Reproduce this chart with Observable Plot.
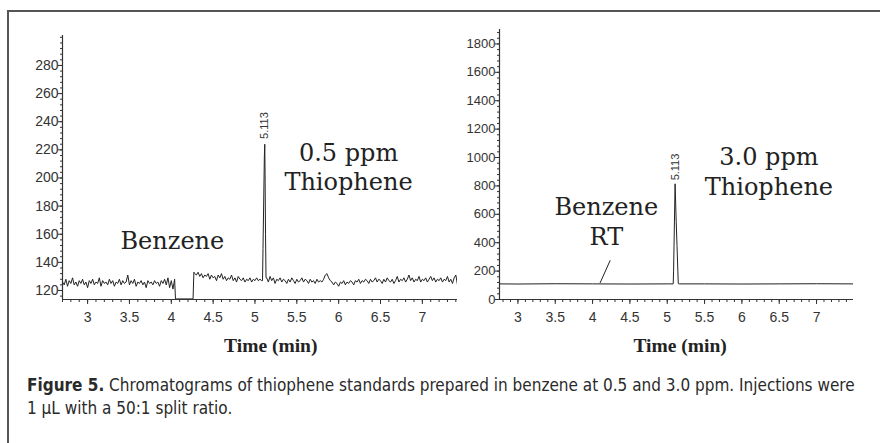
<!DOCTYPE html>
<html>
<head>
<meta charset="utf-8">
<script src="https://cdn.jsdelivr.net/npm/d3@7"></script>
<script src="https://cdn.jsdelivr.net/npm/@observablehq/plot@0.6"></script>
<style>
  body { margin: 0; background: #fff; }
  #fig { position: relative; width: 880px; height: 443px; overflow: hidden; background: #fff; }
  #border { position: absolute; left: 7px; top: 10px; width: 900px; height: 460px; border-left: 2px solid #555; border-top: 2px solid #555; }
  #left { position: absolute; left: 0; top: 0; width: 460px; }
  #right { position: absolute; left: 440px; top: 0; width: 440px; }
  #caption { position: absolute; left: 27px; top: 374px; width: 845px; font-family: "Liberation Sans Narrow", "DejaVu Sans Condensed", "Arial Narrow", sans-serif; font-size: 17px; line-height: 23px; color: #2a2a2a; white-space: nowrap; }
  #caption b { font-weight: bold; }
</style>
</head>
<body>
<div id="fig">
  <div id="border"></div>
  <div id="left"></div>
  <div id="right"></div>
  <div id="caption"><b>Figure 5.</b> Chromatograms of thiophene standards prepared in benzene at 0.5 and 3.0 ppm. Injections were<br>1 μL with a 50:1 split ratio.</div>
</div>
<script>
// ---- Data: 0.5 ppm chromatogram (left) ----
const leftTime = [
  2.70,2.72,2.74,2.76,2.78,2.80,2.82,2.84,2.86,2.88,2.90,2.92,2.94,2.96,2.98,3.00,3.02,3.04,3.06,3.08,
  3.10,3.12,3.14,3.16,3.18,3.20,3.22,3.24,3.26,3.28,3.30,3.32,3.34,3.36,3.38,3.40,3.42,3.44,3.46,3.48,
  3.50,3.52,3.54,3.56,3.58,3.60,3.62,3.64,3.66,3.68,3.70,3.72,3.74,3.76,3.78,3.80,3.82,3.84,3.86,3.88,
  3.90,3.92,3.94,3.96,3.98,4.00,4.02,4.04,4.05,4.26,4.27,
  4.28,4.30,4.32,4.34,4.36,4.38,4.40,4.42,4.44,4.46,4.48,4.50,4.52,4.54,4.56,4.58,4.60,4.62,4.64,4.66,
  4.68,4.70,4.72,4.74,4.76,4.78,4.80,4.82,4.84,4.86,4.88,4.90,4.92,4.94,4.96,4.98,5.00,5.02,5.04,5.06,5.08,
  5.090,5.096,5.112,5.117,5.121,5.126,5.132,
  5.14,5.16,5.18,5.20,5.22,5.24,5.26,5.28,5.30,5.32,5.34,5.36,5.38,5.40,5.42,5.44,5.46,5.48,5.50,5.52,
  5.54,5.56,5.58,5.60,5.62,5.64,5.66,5.68,5.70,5.72,5.74,5.76,5.78,5.80,5.82,5.84,5.86,5.88,5.90,5.92,
  5.94,5.96,5.98,6.00,6.02,6.04,6.06,6.08,6.10,6.12,6.14,6.16,6.18,6.20,6.22,6.24,6.26,6.28,6.30,6.32,
  6.34,6.36,6.38,6.40,6.42,6.44,6.46,6.48,6.50,6.52,6.54,6.56,6.58,6.60,6.62,6.64,6.66,6.68,6.70,6.72,
  6.74,6.76,6.78,6.80,6.82,6.84,6.86,6.88,6.90,6.92,6.94,6.96,6.98,7.00,7.02,7.04,7.06,7.08,7.10,7.12,
  7.14,7.16,7.18,7.20,7.22,7.24,7.26,7.28,7.30,7.32,7.34,7.36,7.38,7.40,7.42
];
const leftSignal = [
  126,124,128,123,127,125,129,124,126,123,127,125,128,124,126,122,127,125,128,124,
  126,125,129,123,127,125,126,124,128,125,127,123,126,125,128,124,127,125,126,131,
  124,127,125,128,123,126,125,127,124,126,122,127,125,126,124,127,125,126,123,127,
  125,128,124,129,122,127,121,128,114,114,133,
  132,131,133,130,132,129,131,130,132,128,131,129,130,127,131,129,132,128,130,127,
  129,128,131,127,129,126,130,128,127,129,126,128,127,129,126,128,127,129,127,128,127,
  127,150,215,224,200,160,129,
  129,126,130,127,129,125,128,127,129,126,128,127,125,128,126,129,127,125,128,126,
  127,129,126,128,127,125,128,126,127,125,128,126,127,126,128,131,132,129,127,126,
  124,126,125,123,126,125,127,124,126,125,127,126,124,127,126,128,125,127,126,128,
  127,125,128,126,127,129,126,128,127,125,128,126,129,127,126,128,125,127,130,126,
  128,127,129,126,128,131,127,129,126,128,127,130,126,128,127,129,126,128,130,127,
  129,126,128,127,129,126,128,127,130,126,128,125,129,131,124
];

// ---- Data: 3.0 ppm chromatogram (right) ----
const rightTime   = [2.76, 3.00, 3.50, 4.00, 4.50, 5.00, 5.080, 5.085, 5.105, 5.120, 5.131, 5.142, 5.148, 5.16, 5.50, 6.00, 6.50, 7.00, 7.49];
const rightSignal = [110,  109,  111,  110,  109,  110,  110,   200,   815,   550,   380,   200,   112,   110,  110,  109,  110,  111,  110];

// ---- Axes ----
const leftYTicks  = [120, 140, 160, 180, 200, 220, 240, 260, 280];
const rightYTicks = [0, 200, 400, 600, 800, 1000, 1200, 1400, 1600, 1800];
const xTicks      = [3, 3.5, 4, 4.5, 5, 5.5, 6, 6.5, 7];
const leftXDomain  = [2.70, 7.42];
const leftYDomain  = [113.6, 301.3];
const rightXDomain = [2.753, 7.495];
const rightYDomain = [0, 1901.6];

// ---- Labels ----
const peakLabel   = "5.113";
const xLabel      = "Time (min)";
const leftNote    = "0.5 ppm\nThiophene";
const rightNote   = "3.0 ppm\nThiophene";
const benzeneLeft = "Benzene";
const benzeneRight= "Benzene\nRT";

const leftData  = leftTime.map((t, i) => ({t, v: leftSignal[i]}));
const rightData = rightTime.map((t, i) => ({t, v: rightSignal[i]}));

const ink = "#222";
const axisInk = "#333";
const serif = "'DejaVu Serif', serif";
const sans = "'Liberation Sans', Arial, sans-serif";

function panel({data, xDomain, yDomain, yTicks, yMinor, width, margins, notes, yFont}) {
  return Plot.plot({
    width, height: 360,
    ...margins,
    x: {domain: xDomain},
    y: {domain: yDomain},
    style: {fontFamily: sans, fontSize: "14px", color: axisInk, background: "transparent", overflow: "visible"},
    marks: [
      Plot.axisY({ticks: yTicks, tickSize: 4, tickPadding: 0, label: null, fontSize: yFont, tickFormat: d => String(d)}),
      Plot.axisY({interval: yMinor, tickSize: 2, text: null, label: null}),
      Plot.axisX({ticks: xTicks, tickSize: 5, tickPadding: 8, label: null, fontSize: 14, tickFormat: d => String(d)}),
      Plot.axisX({interval: 0.1, tickSize: 3, text: null, label: null}),
      Plot.ruleX([xDomain[0]], {stroke: axisInk, strokeWidth: 1.2}),
      Plot.ruleY([yDomain[0]], {stroke: axisInk, strokeWidth: 1.2}),
      Plot.line(data, {x: "t", y: "v", stroke: ink, strokeWidth: 1, clip: true}),
      ...notes
    ]
  });
}

const leftPlot = panel({
  data: leftData, xDomain: leftXDomain, yDomain: leftYDomain, yTicks: leftYTicks, yMinor: 4,
  width: 460, margins: {marginLeft: 62, marginRight: 3, marginTop: 35, marginBottom: 61}, yFont: 14,
  notes: [
    Plot.text([peakLabel], {x: 5.108, y: 227.8, rotate: -90, textAnchor: "start", lineAnchor: "middle", fontSize: 11, fill: axisInk, fontFamily: sans}),
    Plot.text([leftNote], {x: 6.118, y: 191.1, lineAnchor: "bottom", lineHeight: 1.22, fontSize: 24, fontFamily: serif, fill: ink}),
    Plot.text([benzeneLeft], {x: 4.013, y: 149.2, lineAnchor: "bottom", fontSize: 24, fontFamily: serif, fill: ink}),
    Plot.text([xLabel], {x: 5.189, frameAnchor: "bottom", dy: 52.7, lineAnchor: "bottom", fontSize: 19.5, fontWeight: "bold", fontFamily: "'Liberation Serif', 'Times New Roman', serif", fill: ink})
  ]
});

const rightPlot = panel({
  data: rightData, xDomain: rightXDomain, yDomain: rightYDomain, yTicks: rightYTicks, yMinor: 40,
  width: 440, margins: {marginLeft: 59, marginRight: 27, marginTop: 29, marginBottom: 61}, yFont: 13,
  notes: [
    Plot.text([peakLabel], {x: 5.113, y: 839, rotate: -90, textAnchor: "start", lineAnchor: "middle", fontSize: 11, fill: axisInk, fontFamily: sans}),
    Plot.text([rightNote], {x: 6.362, y: 738.2, lineAnchor: "bottom", lineHeight: 1.22, fontSize: 24, fontFamily: serif, fill: ink}),
    Plot.text([benzeneRight], {x: 4.184, y: 385.7, lineAnchor: "bottom", lineHeight: 1.22, fontSize: 24, fontFamily: serif, fill: ink}),
    Plot.link([benzeneRight], {x1: 4.10, y1: 116, x2: 4.236, y2: 276, stroke: ink, strokeWidth: 1}),
    Plot.text([xLabel], {x: 5.172, frameAnchor: "bottom", dy: 52.7, lineAnchor: "bottom", fontSize: 19.5, fontWeight: "bold", fontFamily: "'Liberation Serif', 'Times New Roman', serif", fill: ink})
  ]
});

document.getElementById("left").appendChild(leftPlot);
document.getElementById("right").appendChild(rightPlot);
</script>
</body>
</html>
